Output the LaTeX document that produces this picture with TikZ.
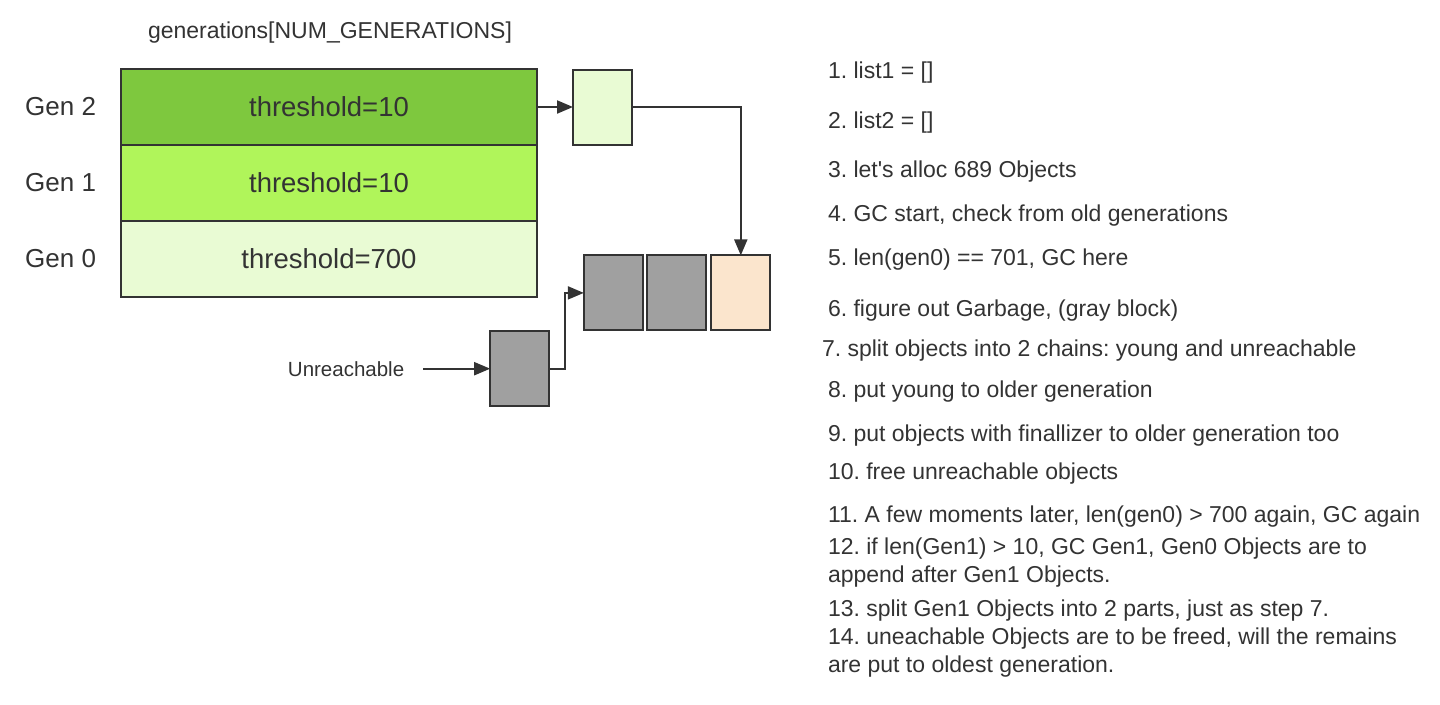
\documentclass[tikz,border=0pt]{standalone}
\usepackage{fontspec}
\setmainfont{Liberation Sans}
\usetikzlibrary{positioning,arrows.meta}
\definecolor{gentwo}{HTML}{7EC83E}
\definecolor{genone}{HTML}{B0F55A}
\definecolor{genzero}{HTML}{E9FBD4}
\definecolor{objgray}{HTML}{A0A0A0}
\definecolor{objpeach}{HTML}{FBE5CD}
\definecolor{inkgray}{HTML}{333333}
\frenchspacing

\begin{document}
\begin{tikzpicture}[
          x=1pt, y=-1pt,
          line width=2pt, color=inkgray,
          row/.style={rectangle,draw,outer sep=0pt,minimum width=416pt,minimum height=76pt,font=\fontsize{27.5}{30}\selectfont},
          genlbl/.style={inner sep=0pt,font=\fontsize{26}{30}\selectfont},
          obj/.style={rectangle,draw,outer sep=0pt,inner sep=0pt,minimum width=59pt,minimum height=75pt},
          arr/.style={-{Triangle[length=16pt,width=13pt]}},
          item/.style={anchor=base west,inner sep=0pt,align=left,font=\fontsize{23}{28.5}\selectfont}
        ]
        \useasboundingbox (0,0) rectangle (1440,704);
        \node[font=\fontsize{23}{26}\selectfont] (title) at (330,33) {generations[NUM\_GENERATIONS]};
        % generation table
        \node[row,fill=gentwo] (gen2) at (329,107) {threshold=10};
        \node[row,fill=genone,below=0pt of gen2] (gen1) {threshold=10};
        \node[row,fill=genzero,below=0pt of gen1] (gen0) {threshold=700};
        \node[genlbl,left=24pt of gen2] (lbl2) {Gen 2};
        \node[genlbl,left=24pt of gen1] (lbl1) {Gen 1};
        \node[genlbl,left=24pt of gen0] (lbl0) {Gen 0};
        % object chains
        \node[obj,fill=genzero,right=36pt of gen2] (young) {};
        \node[obj,fill=objgray] (g1) at (613.3,292.9) {};
        \node[obj,fill=objgray,right=4pt of g1] (g2) {};
        \node[obj,fill=objpeach,right=5.5pt of g2] (peach) {};
        \node[obj,fill=objgray] (unr) at (519.7,368.7) {};
        \node[inner sep=0pt,font=\fontsize{20.5}{24}\selectfont,left=85pt of unr] (ulab) {Unreachable};
        \draw[arr] (gen2.east |- young.west) -- (young.west);
        \draw[arr] (young.east) -| (peach.north);
        \draw[arr,shorten <=18pt] (ulab.east) -- (unr.west);
        \draw[arr] (unr.east) -- ++(16,0) |- (g1.west);
        % steps (two-line nodes sit on their last baseline)
        \node[item] (s1) at (827,78) {1. list1 = []};
        \node[item] (s2) at (827,128) {2. list2 = []};
        \node[item] (s3) at (827,177.5) {3. let\textquotesingle s alloc 689 Objects};
        \node[item] (s4) at (827,221) {4. GC start, check from old generations};
        \node[item] (s5) at (827,265.5) {5. len(gen0) == 701, GC here};
        \node[item] (s6) at (827,316.5) {6. figure out Garbage, (gray block)};
        \node[item] (s7) at (821,356) {7. split objects into 2 chains: young and unreachable};
        \node[item] (s8) at (827,397.5) {8. put young to older generation};
        \node[item] (s9) at (827,441.5) {9. put objects with finallizer to older generation too};
        \node[item] (s10) at (827,479.5) {10. free unreachable objects};
        \node[item] (s11) at (827,522.5) {11. A few moments later, len(gen0) > 700 again, GC again};
        \node[item] (s12) at (827,582.5) {12. if len(Gen1) > 10, GC Gen1, Gen0 Objects are to\\append after Gen1 Objects.};
        \node[item] (s13) at (827,616) {13. split Gen1 Objects into 2 parts, just as step 7.};
        \node[item] (s14) at (827,672.5) {14. uneachable Objects are to be freed, will the remains\\are put to oldest generation.};
      \end{tikzpicture}
\end{document}
